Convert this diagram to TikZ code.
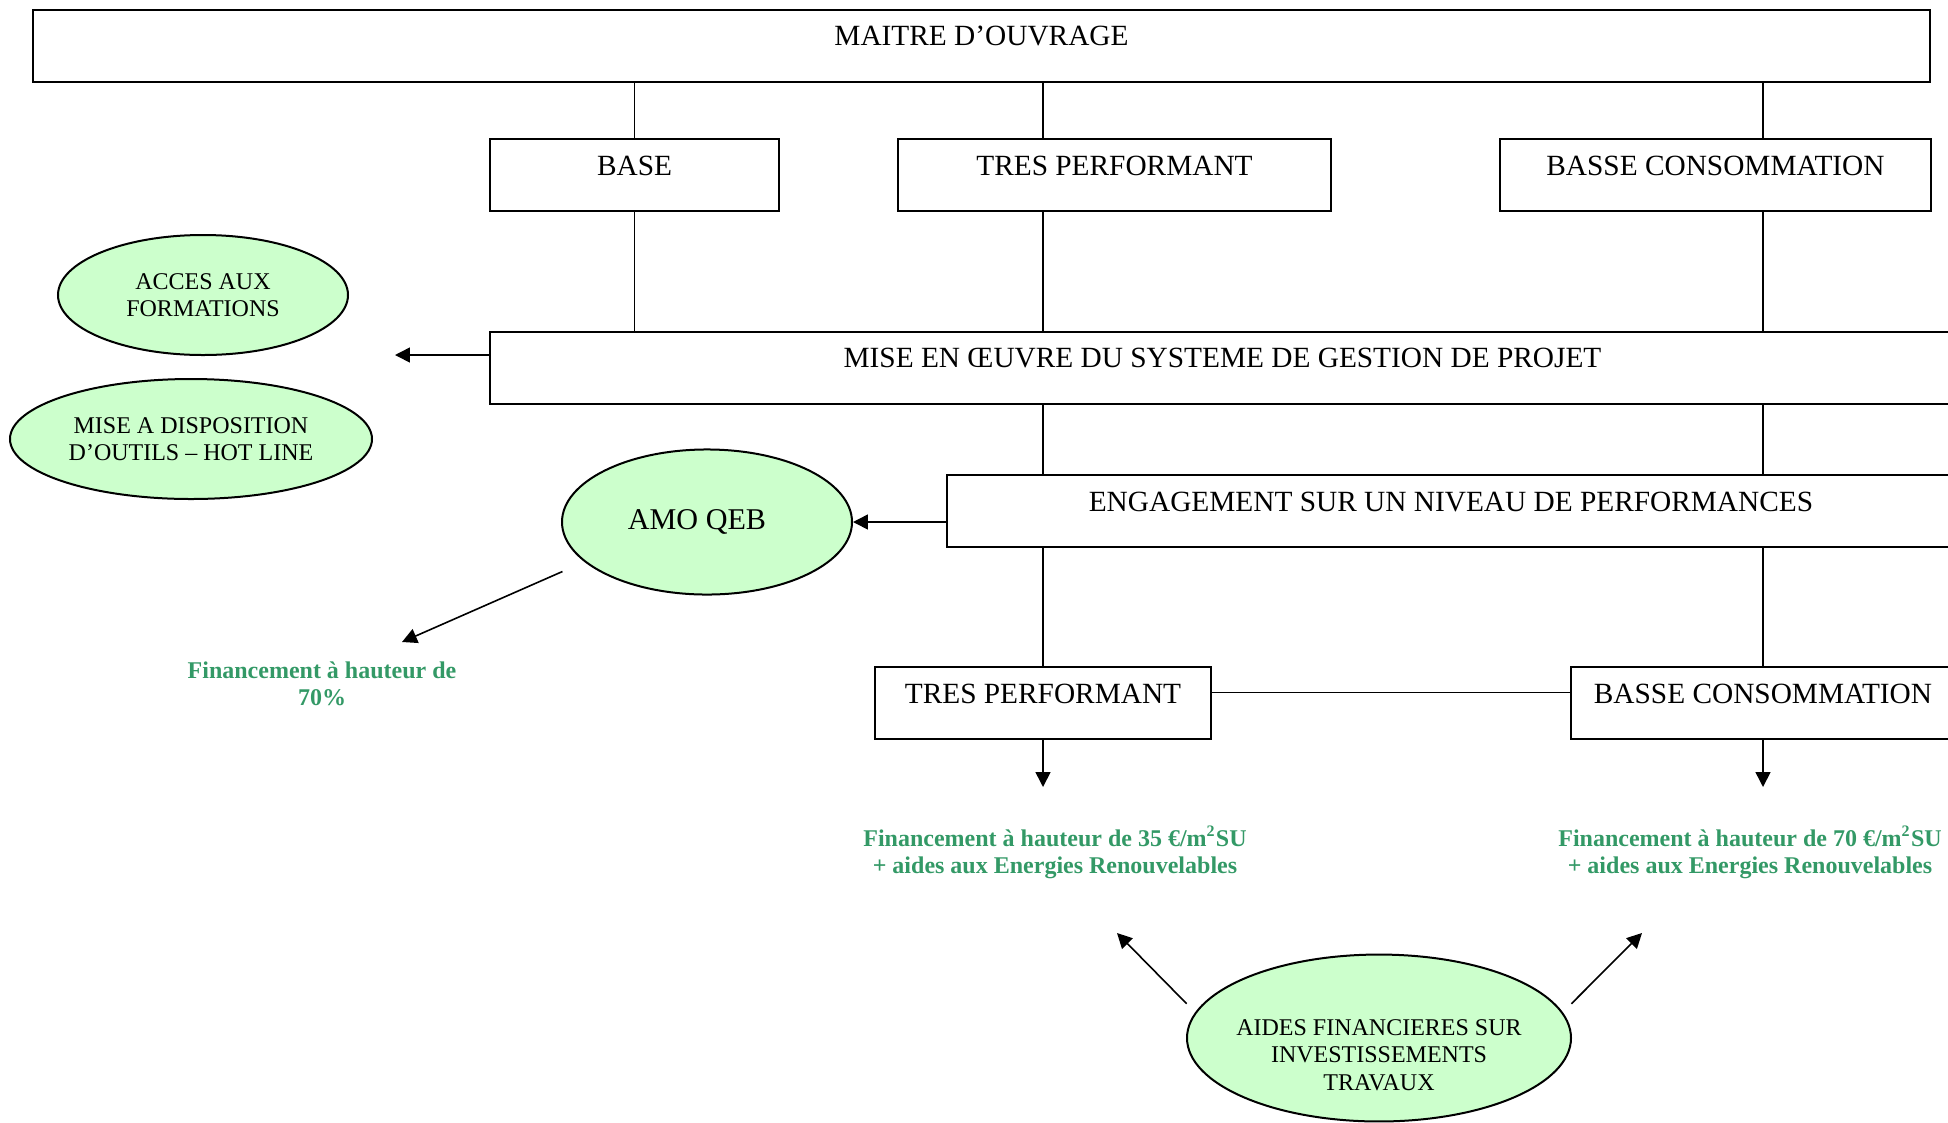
\documentclass[tikz,border=0pt]{standalone}
\usepackage{fontspec}
\setmainfont{Liberation Serif}
\usetikzlibrary{shapes.geometric, arrows.meta}
\definecolor{vertpale}{RGB}{204, 255, 204}
\definecolor{vertfin}{RGB}{51, 153, 102}
\tikzset{boite/.style={draw, line width=0.75pt, minimum height=27pt, inner sep=0pt, text height=7.5pt, text depth=7.5pt, font=\fontsize{11}{13}\selectfont}}
\tikzset{bulle/.style={ellipse, draw, line width=0.75pt, fill=vertpale, inner sep=0pt, align=center, font=\fontsize{9}{10.2}\selectfont}}
\tikzset{lien/.style={line width=0.6pt}}
\tikzset{fleche/.style={line width=0.6pt, -{Triangle[length=5.6pt, width=5.6pt]}}}
\tikzset{finance/.style={align=center, text=vertfin, inner sep=0pt, font=\bfseries\fontsize{9}{10.1}\selectfont}}

\begin{document}
\begin{tikzpicture}[x=0.375pt, y=-0.375pt]
        \useasboundingbox (0, 0) rectangle (1948, 1122);

        \node[boite, minimum width=711.4pt] (mo) at (981.5, 45.5) {MAITRE D’OUVRAGE};
        \node[boite, minimum width=108.4pt] (base) at (634.5, 175) {BASE};
        \node[boite, minimum width=162.4pt] (tp1) at (1114.5, 175) {TRES PERFORMANT};
        \node[boite, minimum width=161.6pt] (bc1) at (1715.5, 175) {BASSE CONSOMMATION};
        \node[boite, minimum width=549.4pt] (mise) at (1222.5, 367.5)
        {MISE EN ŒUVRE DU SYSTEME DE GESTION DE PROJET};
        \node[boite, minimum width=378pt] (eng) at (1451, 511)
        {ENGAGEMENT SUR UN NIVEAU DE PERFORMANCES};
        \node[boite, minimum width=126pt] (tp2) at (1043, 703) {TRES PERFORMANT};
        \node[boite, minimum width=144pt] (bc2) at (1763, 703) {BASSE CONSOMMATION};

        \node[bulle, minimum width=108.75pt, minimum height=45pt] (acces) at (203, 295)
        {ACCES AUX\\FORMATIONS};
        \node[bulle, minimum width=135.75pt, minimum height=45pt] (outils) at (191, 439)
        {MISE A DISPOSITION\\D’OUTILS – HOT LINE};
        \node[bulle, minimum width=108.75pt, minimum height=54.4pt, font=\fontsize{11.3}{13}\selectfont] (amo) at (707, 522)
        {AMO QEB\hspace{7.5pt}};
        \node[bulle, minimum width=144pt, minimum height=62.6pt] (aides) at (1379, 1038) {};
        \node[align=center, inner sep=0pt, font=\fontsize{9}{10.3}\selectfont] (aidestxt) at (1379, 1055)
        {AIDES FINANCIERES SUR\\INVESTISSEMENTS\\TRAVAUX};

        \node[finance] (fin70) at (322, 684) {Financement à hauteur de\\70\%};
        \node[finance] (fin35) at (1055, 852)
        {Financement à hauteur de 35 €/m\textsuperscript{2}SU\\+ aides aux Energies Renouvelables};
        \node[finance] (fin70m) at (1750, 852)
        {Financement à hauteur de 70 €/m\textsuperscript{2}SU\\+ aides aux Energies Renouvelables};

        \coordinate (versbulles) at (395, 355);
        \coordinate (versfin70) at (402, 642);
        \coordinate (versfin35) at (1044, 787);
        \coordinate (versfin70m) at (1764, 787);
        \coordinate (hautgauche) at (1117, 933);
        \coordinate (hautdroite) at (1642, 933);

        \draw [lien] (mo.south -| base) -- (base.north);
        \draw [lien] (mo.south -| tp2) -- (tp1.north -| tp2);
        \draw [lien] (mo.south -| bc2) -- (bc1.north -| bc2);
        \draw [lien] (base.south) -- (mise.north -| base);
        \draw [lien] (tp1.south -| tp2) -- (mise.north -| tp2);
        \draw [lien] (bc1.south -| bc2) -- (mise.north -| bc2);
        \draw [lien] (mise.south -| tp2) -- (eng.north -| tp2);
        \draw [lien] (mise.south -| bc2) -- (eng.north -| bc2);
        \draw [lien] (eng.south -| tp2) -- (tp2.north);
        \draw [lien] (eng.south -| bc2) -- (bc2.north);
        \draw [lien] ([yshift=4pt]tp2.east) -- ([yshift=4pt]bc2.west);

        \draw [fleche] (mise.west |- versbulles) -- (versbulles);
        \draw [fleche] (eng.west |- amo) -- (amo.east);
        \draw [fleche] ([shift={(-24, 8)}]amo.199) -- (versfin70);
        \draw [fleche] (tp2.south) -- (tp2.south |- versfin35);
        \draw [fleche] (bc2.south) -- (bc2.south |- versfin70m);
        \draw [fleche] ([xshift=-6pt]aides.169) -- (hautgauche);
        \draw [fleche] ([xshift=6pt]aides.11) -- (hautdroite);
    \end{tikzpicture}
\end{document}
